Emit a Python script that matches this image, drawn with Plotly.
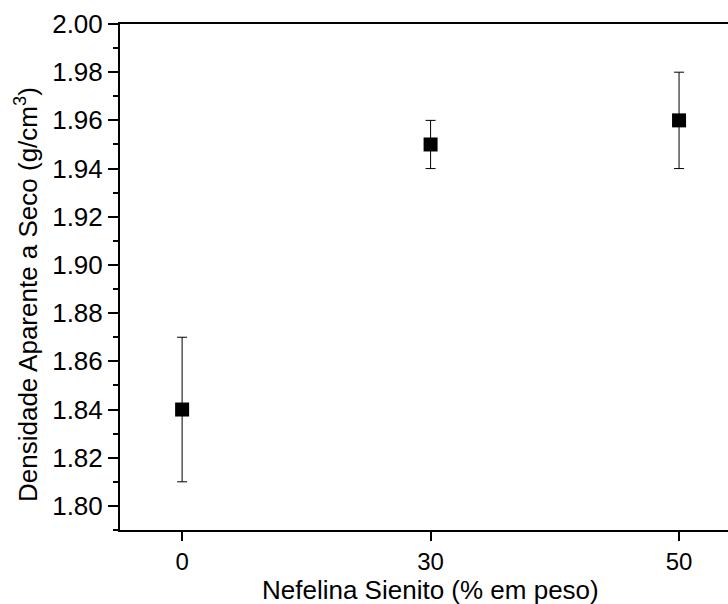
import plotly.graph_objects as go

categories = ["0", "30", "50"]
density = [1.84, 1.95, 1.96]
error = [0.03, 0.01, 0.02]
y_ticks = [1.80, 1.82, 1.84, 1.86, 1.88, 1.90, 1.92, 1.94, 1.96, 1.98, 2.00]
x_title = "Nefelina Sienito (% em peso)"
y_title = "Densidade Aparente a Seco (g/cm<sup>3</sup>)"

FONT = "Liberation Sans, Arial, sans-serif"

fig = go.Figure()
fig.add_trace(go.Scatter(
    x=categories, y=density, mode="markers",
    marker=dict(symbol="square", size=14, color="black"),
    error_y=dict(type="data", array=error, visible=True, color="black", thickness=1, width=5),
    showlegend=False,
))

fig.update_layout(
    width=728, height=604,
    margin=dict(l=120, r=0, t=24, b=74),
    paper_bgcolor="white", plot_bgcolor="white",
    font=dict(family=FONT, size=26, color="black"),
    xaxis=dict(
        type="category", range=[-0.25, 2.197],
        showline=True, linecolor="black", linewidth=2, mirror=True,
        ticks="outside", ticklen=9, tickwidth=2, tickcolor="black",
        tickfont=dict(family=FONT, size=24),
        showgrid=False, zeroline=False,
    ),
    yaxis=dict(
        range=[1.79, 2.00], tickvals=y_ticks,
        tickformat=".2f",
        showline=True, linecolor="black", linewidth=2,
        ticks="outside", ticklen=10, tickwidth=2, tickcolor="black",
        tickfont=dict(family=FONT, size=26),
        minor=dict(ticks="outside", ticklen=5, tickwidth=2, tickcolor="black", dtick=0.01, tick0=1.79),
        showgrid=False, zeroline=False,
    ),
    annotations=[
        dict(text=x_title, xref="paper", yref="paper", x=0.5115, y=-0.1186,
             xanchor="center", yanchor="middle", showarrow=False,
             font=dict(family=FONT, size=26, color="black")),
        dict(text=y_title, xref="paper", yref="paper", x=-0.1546, y=0.4644,
             xanchor="center", yanchor="middle", showarrow=False, textangle=-90,
             font=dict(family=FONT, size=26, color="black")),
    ],
)

fig.write_html("out.html")
